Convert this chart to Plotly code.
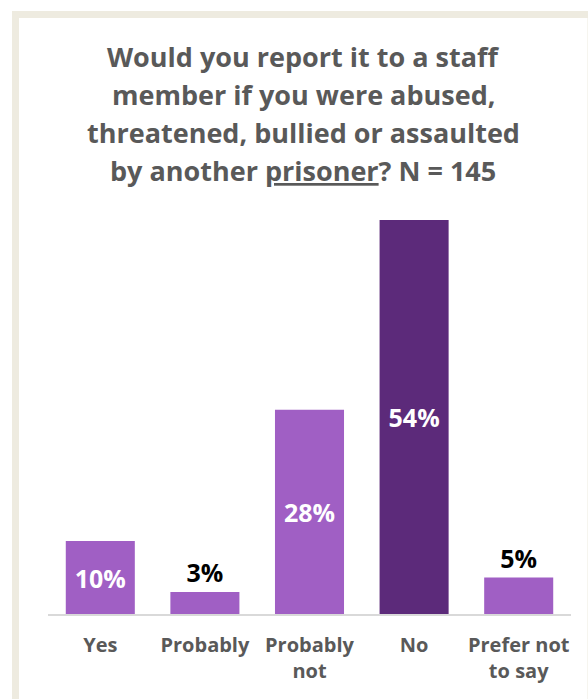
import plotly.graph_objects as go

# Survey responses
categories = ["Yes", "Probably", "Probably<br>not", "No", "Prefer not<br>to say"]
percentages = [10, 3, 28, 54, 5]
bar_colors = ["#A05FC4", "#A05FC4", "#A05FC4", "#5C2A7A", "#A05FC4"]
label_positions = ["inside", "outside", "inside", "inside", "outside"]
label_colors = ["#FFFFFF", "#000000", "#FFFFFF", "#FFFFFF", "#000000"]

title_lines = [
    "Would you report it to a staff",
    "member if you were abused,",
    "threatened, bullied or assaulted",
    "by another <u>prisoner</u>? N = 145",
]

W, H = 588, 699
PLOT_L, PLOT_R = 48, 571      # plot area horizontal extent (px)
PLOT_T, PLOT_B = 200, 614     # plot area vertical extent (px)
PX_PER_UNIT = 394 / 54        # vertical scale
Y_MAX = (PLOT_B - PLOT_T) / PX_PER_UNIT

FONT = "Open Sans"
GREY = "#595959"


def px_x(px):
    return (px - PLOT_L) / (PLOT_R - PLOT_L)


def px_y(py):
    return (PLOT_B - py) / (PLOT_B - PLOT_T)


fig = go.Figure(
    go.Bar(
        x=categories,
        y=percentages,
        marker=dict(color=bar_colors, line=dict(width=0)),
        text=[f"{v}%" for v in percentages],
        textposition=label_positions,
        insidetextanchor="middle",
        textfont=dict(family=FONT, size=25, color=label_colors, weight="bold"),
        cliponaxis=False,
        hoverinfo="skip",
    )
)

annotations = []
for i, line in enumerate(title_lines):
    annotations.append(
        dict(
            text=f"<b>{line}</b>",
            xref="paper", yref="paper",
            x=px_x(303), y=px_y(56 + 38.3 * i),
            xanchor="center", yanchor="middle",
            showarrow=False,
            font=dict(family=FONT, size=27, color=GREY),
        )
    )

# Beige frame around the chart card
frame = dict(
    type="rect", xref="paper", yref="paper",
    x0=px_x(15.5), x1=px_x(591), y0=px_y(720), y1=px_y(14.5),
    line=dict(color="#EEEBE0", width=7),
    fillcolor="rgba(0,0,0,0)",
    layer="below",
)

fig.update_layout(
    width=W, height=H,
    margin=dict(l=PLOT_L, r=W - PLOT_R, t=PLOT_T, b=H - PLOT_B),
    paper_bgcolor="white",
    plot_bgcolor="white",
    bargap=0.34,
    showlegend=False,
    annotations=annotations,
    shapes=[frame],
    xaxis=dict(
        showline=True, linecolor="#D9D9D9", linewidth=1.5,
        ticks="", showgrid=False, zeroline=False,
        ticklabelstandoff=12,
        tickfont=dict(family=FONT, size=20, color=GREY, weight="bold"),
        fixedrange=True,
    ),
    yaxis=dict(
        range=[0, Y_MAX], visible=False, showgrid=False, zeroline=False,
        fixedrange=True,
    ),
    uniformtext=dict(mode=False),
)

fig.write_html("out.html", config={"displayModeBar": False})
